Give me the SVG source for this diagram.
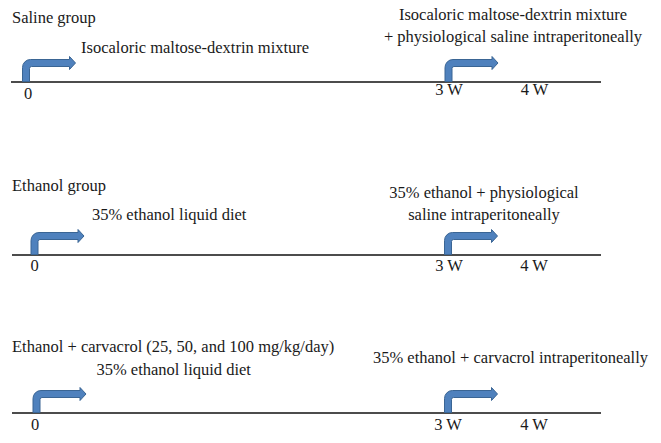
<svg xmlns="http://www.w3.org/2000/svg" xmlns:xlink="http://www.w3.org/1999/xlink" width="661" height="443" viewBox="0 0 661 443">
<style>
text{font-family:"Liberation Serif","Times New Roman",serif;font-size:16.5px;fill:#1a1a1a}
.m{text-anchor:middle}
.axis{stroke:#111;stroke-width:1.6;fill:none}
.arrow{fill:#4f81bd;stroke:#3a6594;stroke-width:1}
</style>
<defs>
<path id="bent" class="arrow" d="M0,0 V-14 A8,8 0 0 1 8,-22 H47 V-25 L53,-18.5 L47,-12 V-15 H9 A2,2 0 0 0 7,-13 V0 Z"/>
</defs>
<rect width="661" height="443" fill="#fff"/>
<g id="connectors">
<line class="axis" x1="11" y1="82" x2="601" y2="82"/>
<line class="axis" x1="12" y1="255" x2="601" y2="255"/>
<line class="axis" x1="12" y1="413" x2="601" y2="413"/>
<use xlink:href="#bent" href="#bent" transform="translate(22.5,81.5)"/>
<use xlink:href="#bent" href="#bent" transform="translate(445,81.5)"/>
<use xlink:href="#bent" href="#bent" transform="translate(31,254.5)"/>
<use xlink:href="#bent" href="#bent" transform="translate(444.5,254.5)"/>
<use xlink:href="#bent" href="#bent" transform="translate(33,412.5)"/>
<use xlink:href="#bent" href="#bent" transform="translate(444.5,412.5)"/>
</g>
<g id="saline">
<text x="12" y="22.5">Saline group</text>
<text x="81" y="53">Isocaloric maltose-dextrin mixture</text>
<text class="m" x="513" y="20">Isocaloric maltose-dextrin mixture</text>
<text class="m" x="513" y="42">+ physiological saline intraperitoneally</text>
<text class="m" x="28" y="99">0</text>
<text class="m" x="449" y="95">3 W</text>
<text class="m" x="534.5" y="95">4 W</text>
</g>
<g id="ethanol">
<text x="12" y="190.5">Ethanol group</text>
<text x="92" y="220">35% ethanol liquid diet</text>
<text class="m" x="484" y="198">35% ethanol + physiological</text>
<text class="m" x="484" y="220">saline intraperitoneally</text>
<text class="m" x="34.5" y="271">0</text>
<text class="m" x="449" y="271">3 W</text>
<text class="m" x="534" y="271">4 W</text>
</g>
<g id="carvacrol">
<text x="12" y="352">Ethanol + carvacrol (25, 50, and 100 mg/kg/day)</text>
<text x="96.5" y="375">35% ethanol liquid diet</text>
<text x="373" y="363">35% ethanol + carvacrol intraperitoneally</text>
<text class="m" x="35" y="430">0</text>
<text class="m" x="448" y="430">3 W</text>
<text class="m" x="534" y="430">4 W</text>
</g>
</svg>
